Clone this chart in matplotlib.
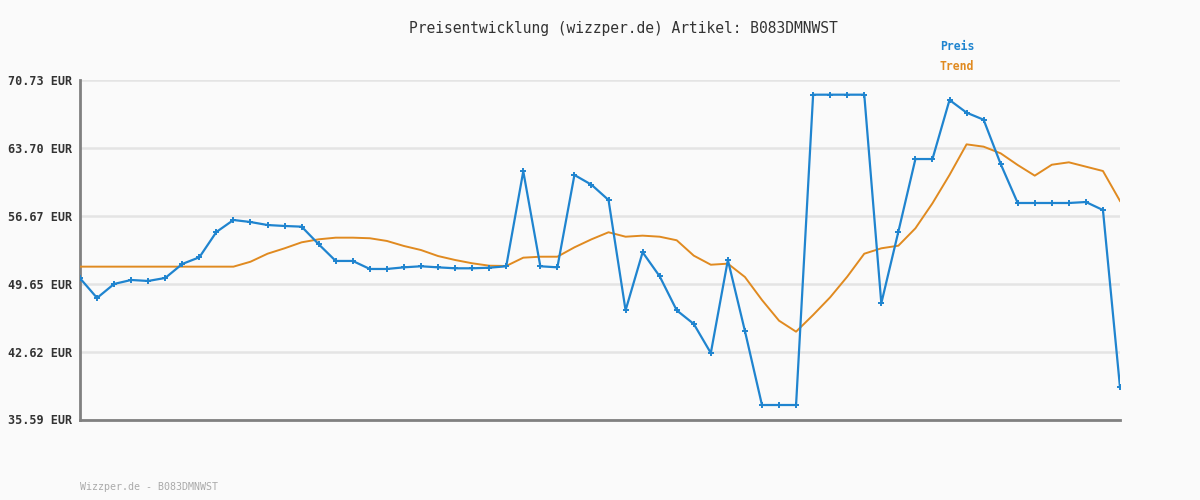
import matplotlib
matplotlib.use("Agg")
import matplotlib.pyplot as plt
import numpy as np

title = "Preisentwicklung (wizzper.de) Artikel: B083DMNWST"
footer = "Wizzper.de - B083DMNWST"
ytick_values = [35.59, 42.62, 49.65, 56.67, 63.70, 70.73]
ytick_labels = ["35.59 EUR", "42.62 EUR", "49.65 EUR", "56.67 EUR", "63.70 EUR", "70.73 EUR"]

preis = [50.21, 48.17, 49.62, 50.03, 49.93, 50.24, 51.69, 52.38, 55.00, 56.24,
         56.03, 55.72, 55.62, 55.55, 53.73, 52.00, 52.00, 51.17, 51.17, 51.34,
         51.45, 51.34, 51.24, 51.24, 51.30, 51.45, 61.28, 51.45, 51.34, 60.90,
         59.89, 58.31, 46.89, 52.90, 50.41, 46.89, 45.48, 42.47, 52.10, 44.75,
         37.09, 37.09, 37.09, 69.21, 69.21, 69.21, 69.21, 47.62, 55.03, 62.55,
         62.55, 68.66, 67.35, 66.62, 62.04, 58.00, 58.00, 58.00, 58.00, 58.10,
         57.27, 38.92]

trend = [51.41, 51.41, 51.41, 51.41, 51.41, 51.41, 51.41, 51.41, 51.41, 51.41,
         51.92, 52.75, 53.31, 53.93, 54.24, 54.41, 54.41, 54.35, 54.07, 53.55,
         53.13, 52.51, 52.10, 51.76, 51.51, 51.48, 52.34, 52.44, 52.44, 53.41,
         54.24, 54.97, 54.51, 54.62, 54.51, 54.14, 52.55, 51.61, 51.72, 50.34,
         47.96, 45.82, 44.68, 46.41, 48.24, 50.37, 52.75, 53.31, 53.58, 55.38,
         57.97, 60.90, 64.07, 63.83, 63.14, 61.93, 60.83, 61.96, 62.21, 61.76,
         61.31, 58.21]

blue = "#1f84cf"
orange = "#e08a20"
bg = "#fafafa"
mono = ["DejaVu Sans Mono"]

fig = plt.figure(figsize=(12, 5), dpi=100, facecolor=bg)
ax = fig.add_axes([80/1200, (500-419.5)/500, 1040/1200, 339.5/500], facecolor=bg)

x = np.arange(len(preis))
ax.plot(x, trend, color=orange, lw=1.4, zorder=3)
ax.plot(x, preis, color=blue, lw=1.6, marker="+", markersize=4, mew=1.4, zorder=4)

ax.set_xlim(0, len(preis) - 1)
ax.set_ylim(ytick_values[0], ytick_values[-1])
ax.set_yticks(ytick_values)
ax.set_yticklabels(ytick_labels, family=mono, fontsize=8.5, fontweight="bold", color="#333333")
ax.set_xticks([])
ax.tick_params(axis="y", length=0, pad=6)
ax.grid(axis="y", color="#e4e4e4", lw=1.8, zorder=0)
ax.set_axisbelow(True)
for s in ["top", "right"]:
    ax.spines[s].set_visible(False)
for s in ["left", "bottom"]:
    ax.spines[s].set_color("#808080")
    ax.spines[s].set_linewidth(2)

fig.text(623/1200, 1 - 28/500, title, family=mono, fontsize=10.5, color="#333333",
         ha="center", va="center")
fig.text(940/1200, 1 - 47/500, "Preis", family=mono, fontsize=8.3, fontweight="bold",
         color=blue, ha="left", va="center")
fig.text(940/1200, 1 - 67/500, "Trend", family=mono, fontsize=8.3, fontweight="bold",
         color=orange, ha="left", va="center")
fig.text(80/1200, 1 - 487/500, footer, family=mono, fontsize=7.2, color="#aaaaaa",
         ha="left", va="center")

fig.savefig("out.png", dpi=100, facecolor=bg)
